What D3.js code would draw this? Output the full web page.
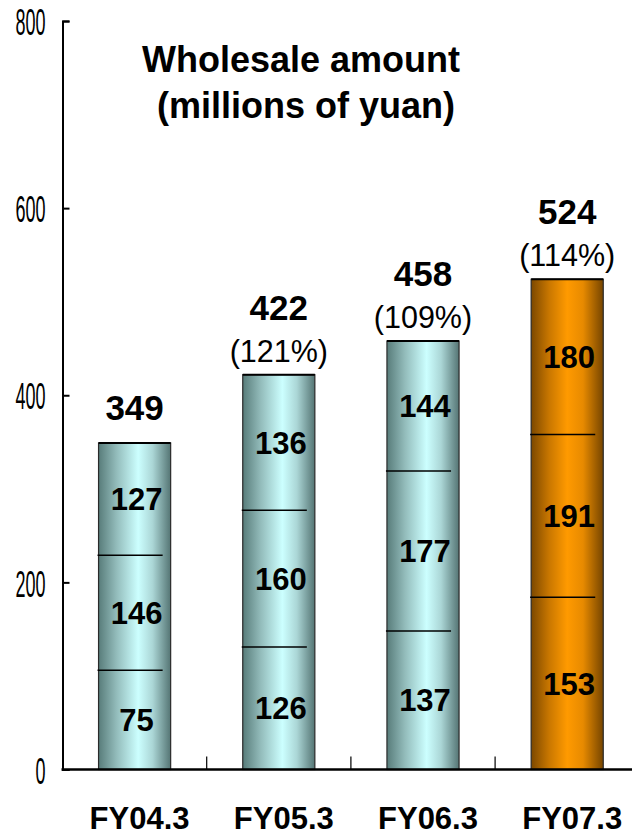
<!DOCTYPE html>
<html>
<head>
<meta charset="utf-8">
<script src="https://cdn.jsdelivr.net/npm/d3@7"></script>
<style>
  html, body { margin: 0; padding: 0; background: #fff; overflow: hidden; }
  svg { display: block; font-family: "Liberation Sans", Arial, sans-serif; }
</style>
</head>
<body>
<svg id="chart" width="632" height="839"></svg>
<script>
// ---- data ----
const categories = ["FY04.3", "FY05.3", "FY06.3", "FY07.3"];
const totals = [349, 422, 458, 524];
const growthLabels = [null, "(121%)", "(109%)", "(114%)"];
// segment heights as drawn in the picture (bottom, middle, top)
const segBottom = [106, 131, 148, 184];
const segMiddle = [123, 146, 171, 174];
const segTop    = [120, 145, 139, 166];
// segment labels as printed
const labBottom = [75, 126, 137, 153];
const labMiddle = [146, 160, 177, 191];
const labTop    = [127, 136, 144, 180];
const yTicks = [0, 200, 400, 600, 800];
const titleLines = ["Wholesale amount", "(millions of yuan)"];

// ---- scales ----
const svg = d3.select("#chart");
const y = d3.scaleLinear().domain([0, 800]).range([769.5, 21]);
const x = d3.scaleBand().domain(categories).range([62.5, 639.3])
  .paddingInner(0.5).paddingOuter(0.25);
const step = x.step();
const bw = x.bandwidth();

// ---- gradients ----
const defs = svg.append("defs");
function grad(id, stops) {
  const g = defs.append("linearGradient").attr("id", id)
    .attr("x1", "0%").attr("x2", "100%").attr("y1", "0%").attr("y2", "0%");
  stops.forEach(s => g.append("stop").attr("offset", s[0]).attr("stop-color", s[1]));
}
grad("teal", [["0%", "#587c7a"], ["25%", "#93bcbb"], ["55%", "#ccffff"], ["75%", "#abd6d6"], ["100%", "#557574"]]);
grad("orange", [["0%", "#7c4800"], ["25%", "#c97700"], ["50%", "#ff9a00"], ["72%", "#e78a00"], ["100%", "#764500"]]);

// ---- bars ----
const stacked = categories.map((c, i) => {
  const a = segBottom[i], b = a + segMiddle[i], t = b + segTop[i];
  return { c, i, bounds: [0, a, b, t], labels: [labBottom[i], labMiddle[i], labTop[i]] };
});

const g = svg.append("g");
stacked.forEach(d => {
  const x0 = x(d.c);
  const fill = d.i === 3 ? "url(#orange)" : "url(#teal)";
  g.append("rect")
    .attr("x", x0).attr("y", y(totals[d.i]))
    .attr("width", bw).attr("height", y(0) - y(totals[d.i]))
    .attr("fill", fill).attr("stroke", "#2a2a2a").attr("stroke-width", 1.2);
  g.append("line")
    .attr("x1", x0).attr("x2", x0 + bw)
    .attr("y1", y(totals[d.i])).attr("y2", y(totals[d.i]))
    .attr("stroke", "#000").attr("stroke-width", 2);
  [1, 2].forEach(k => {
    g.append("line")
      .attr("x1", x0 - 1).attr("x2", x0 + bw - 8)
      .attr("y1", y(d.bounds[k])).attr("y2", y(d.bounds[k]))
      .attr("stroke", "#000").attr("stroke-width", 1.5);
  });
  [0, 1, 2].forEach(k => {
    const mid = (d.bounds[k] + d.bounds[k + 1]) / 2;
    g.append("text")
      .attr("x", x0 + bw / 2 + 2).attr("y", y(mid))
      .attr("dy", "0.36em")
      .attr("text-anchor", "middle")
      .attr("font-size", 31).attr("font-weight", "bold")
      .attr("fill", "#000")
      .text(d.labels[k]);
  });
  const hasPct = growthLabels[d.i] !== null;
  g.append("text")
    .attr("x", x0 + bw / 2).attr("y", y(totals[d.i]) - (hasPct ? 55 : 23))
    .attr("text-anchor", "middle")
    .attr("font-size", 35).attr("font-weight", "bold")
    .text(totals[d.i]);
  if (hasPct) {
    g.append("text")
      .attr("x", x0 + bw / 2).attr("y", y(totals[d.i]) - 13)
      .attr("text-anchor", "middle")
      .attr("font-size", 30.5)
      .text(growthLabels[d.i]);
  }
});

// ---- axes ----
const yAxis = d3.axisLeft(y).tickValues(yTicks).tickSize(-7).tickPadding(0).tickFormat(d3.format("d"));
const ya = svg.append("g").attr("transform", "translate(62.5,0)").call(yAxis);
ya.select(".domain").attr("stroke", "#000").attr("stroke-width", 2);
ya.selectAll(".tick line").attr("stroke", "#000").attr("stroke-width", 2);
ya.selectAll(".tick text").remove();
ya.selectAll(".tick").append("text")
  .attr("x", -17).attr("dy", "0.37em")
  .attr("text-anchor", "end")
  .attr("fill", "#000")
  .attr("font-size", 37)
  .attr("font-family", "'Liberation Sans', Arial, sans-serif")
  .attr("textLength", d => String(d).length * 10)
  .attr("lengthAdjust", "spacingAndGlyphs")
  .text(d => d);

// x axis
const xa = svg.append("g").attr("transform", `translate(0,${y(0)})`)
  .call(d3.axisBottom(x).tickSize(0).tickPadding(0).tickFormat(""));
xa.select(".domain").remove();
xa.append("line").attr("x1", 61.5).attr("x2", 632).attr("y1", 0).attr("y2", 0)
  .attr("stroke", "#000").attr("stroke-width", 2.5);
categories.slice(1).forEach(c => {
  const sx = x(c) - (step - bw) / 2;
  xa.append("line").attr("x1", sx).attr("x2", sx)
    .attr("y1", 0).attr("y2", -13).attr("stroke", "#000").attr("stroke-width", 1.2);
});
svg.append("g").selectAll("text").data(categories).join("text")
  .attr("x", c => x(c) + bw / 2 + 5)
  .attr("y", 829)
  .attr("text-anchor", "middle")
  .attr("font-size", 31).attr("font-weight", "bold")
  .attr("fill", "#000")
  .text(c => c);

// ---- title ----
svg.append("text").attr("x", 301).attr("y", 72).attr("text-anchor", "middle")
  .attr("font-size", 36).attr("font-weight", "bold").text(titleLines[0]);
svg.append("text").attr("x", 306).attr("y", 118).attr("text-anchor", "middle")
  .attr("font-size", 36).attr("font-weight", "bold").text(titleLines[1]);
</script>
</body>
</html>
